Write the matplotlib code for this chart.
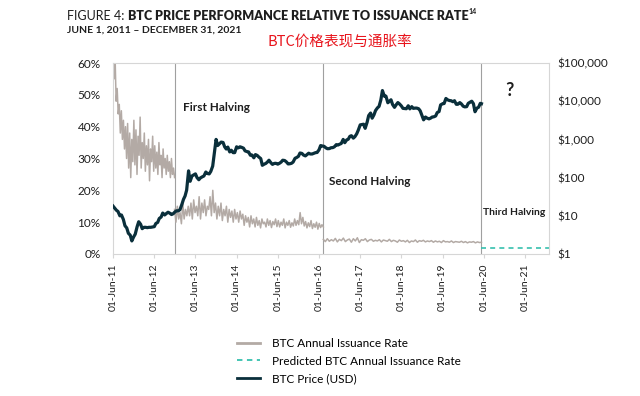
import matplotlib
matplotlib.use("Agg")
import matplotlib.pyplot as plt
import matplotlib.dates as mdates
from matplotlib.lines import Line2D
from matplotlib.ticker import FixedLocator, FixedFormatter
import pandas as pd
import numpy as np

plt.rcParams['font.family'] = ['Lato', 'DejaVu Sans']

# ---------------- data ----------------
price_2011 = [18, 16, 14, 13, 10, 10.5, 8, 5.5, 4.8, 3.5, 3.1, 2.2, 2.8, 3.3]
price_2012 = [5.2, 7.0, 6.0, 4.6, 5.0, 5.0, 4.9, 5.0, 5.0, 5.1, 5.2, 6.3,
              6.7, 8.5, 9.3, 11.8, 10.5, 11.4, 12.4, 11.8, 10.8, 11.3, 12.6, 13.5]
price_2013 = [13.5, 14.5, 20, 27, 33, 47, 150, 80, 110, 117, 125, 100,
              88, 98, 105, 110, 140, 128, 125, 145, 200, 420, 1000, 690]
price_2014 = [770, 850, 830, 640, 560, 630, 470, 520, 450, 450, 640, 600,
              640, 620, 590, 500, 480, 470, 385, 390, 330, 400, 380, 345]
price_2015 = [315, 210, 225, 235, 255, 285, 245, 222, 235, 237, 225, 236,
              255, 285, 280, 260, 228, 230, 237, 255, 320, 335, 360, 440]
price_2016 = [430, 390, 370, 400, 435, 415, 415, 430, 450, 455, 535, 690,
              670, 660, 600, 570, 575, 605, 610, 640, 730, 710, 750, 780]
price_2017 = [1000, 820, 970, 1010, 1200, 1250, 1080, 1180, 1400, 1750, 2400, 2450,
              2500, 1950, 2800, 4200, 4900, 3600, 4400, 5700, 6700, 7300, 10800, 19000]
price_2018 = [13500, 13600, 9100, 10000, 10900, 8200, 6900, 8000, 9200, 8500, 7500, 6500,
              6400, 6350, 7600, 6300, 7200, 6500, 6600, 6600, 6350, 5600, 4200, 3250]
price_2019 = [3850, 3600, 3450, 3600, 3850, 3900, 4100, 5050, 5350, 8000, 8550, 8700,
              11800, 10900, 10400, 10300, 9700, 10300, 8300, 8300, 9200, 8500, 7400, 7100]
price_2020 = [7200, 8800, 9400, 10000, 8600, 5300, 6600, 6900, 8800]
price_last = 8600
price_start = "2011-06-01"
price_semimonthly_end = "2020-05-01"
price_last_date = "2020-05-11"

# BTC annual issuance rate (%), by halving era
halving_dates = ["2012-11-28", "2016-07-09", "2020-05-11"]
era_start = "2011-06-01"
issuance_era1 = [68, 55, 62, 48, 52, 44, 47, 38, 45, 36, 42, 33, 40, 30, 41, 27, 38, 24, 36, 29,
                 42, 28, 39, 25, 37, 31, 43, 27, 35, 30, 38, 26, 34, 28, 36, 23, 33, 29, 37, 26,
                 34, 27, 32, 25, 35, 28, 31, 24, 33, 27, 30, 25, 31, 26, 29, 24, 30, 25, 27, 24]
issuance_era2 = [14, 10, 15, 11, 13, 9.5, 16, 11, 14, 12, 15,
                 12, 16, 11, 17, 13, 15, 12, 18, 11, 16, 13, 17, 12, 15, 14, 18, 12, 20, 13, 16,
                 11, 15, 12, 16, 10.5, 14, 12, 15, 10, 14, 11.5, 13.5, 10, 14, 11, 13, 10, 13.5, 11, 12.5,
                 9, 12, 10, 11.5, 8.5, 12, 9.5, 11, 8.5, 11.5, 9, 10.5, 8.2, 11, 9.5, 10, 8.5, 11, 9, 10.5,
                 8.3, 10.2, 9.2, 11, 8.6,
                 10.5, 8.5, 10, 9, 11, 8.2, 10, 9, 10.5, 8.4, 9.8, 8.8, 11, 9, 10.5, 9.2, 13, 9.5, 11.5, 8.8,
                 10.2, 8.2, 9.8, 8.6, 10.5, 8, 9.5, 8.4, 10, 7.8, 9.6, 8.3, 9.2, 8.5]
issuance_era3 = [4.6, 3.9, 4.8, 4.0, 4.5, 4.1, 4.9, 3.8, 4.6, 4.2, 5.0, 3.9, 4.4, 4.7, 3.7, 4.8,
                 4.1, 5.1, 3.6, 4.5, 4.3, 4.8, 3.9, 4.4, 4.6, 4.0, 4.3, 4.1, 4.5, 3.8, 4.4, 4.2,
                 4.0, 4.6, 3.9, 4.3, 4.1, 3.7, 4.4, 4.0, 4.2, 3.8, 4.3, 3.6, 4.1, 3.9, 4.4, 3.7,
                 4.2, 4.0, 4.3, 3.8, 4.1, 3.9, 4.2, 3.7, 4.1, 3.8, 4.0, 3.6, 4.2, 3.8, 3.9, 3.7,
                 4.1, 3.6, 3.9, 3.8, 3.7, 4.0, 3.6, 3.9, 3.5, 3.8, 3.7, 3.9, 3.5, 3.8, 3.6, 3.7]
predicted_dates = ["2020-05-11", "2021-12-31"]
predicted_rate = [1.8, 1.8]

x_range = ["2011-06-01", "2021-12-31"]
tick_dates = ["2011-06-01", "2012-06-01", "2013-06-01", "2014-06-01", "2015-06-01", "2016-06-01",
              "2017-06-01", "2018-06-01", "2019-06-01", "2020-06-01", "2021-06-01"]
pct_ticks = [0, 10, 20, 30, 40, 50, 60]
usd_ticks = [1, 10, 100, 1000, 10000, 100000]
usd_labels = ["$1", "$10", "$100", "$1,000", "$10,000", "$100,000"]
halving_labels = ["First Halving", "Second Halving", "Third Halving"]

# ---------------- build series ----------------
price_vals = (price_2011 + price_2012 + price_2013 + price_2014 + price_2015 + price_2016 +
              price_2017 + price_2018 + price_2019 + price_2020)
price_dates = list(pd.date_range(price_start, price_semimonthly_end, freq="SMS"))
assert len(price_dates) == len(price_vals), (len(price_dates), len(price_vals))
price_dates.append(pd.Timestamp(price_last_date))
price_vals = price_vals + [price_last]

eras = [issuance_era1, issuance_era2, issuance_era3]
bounds = [era_start] + halving_dates

# ---------------- figure ----------------
fig = plt.figure(figsize=(6.4, 3.96), dpi=100)
ax = fig.add_axes([113 / 640, 1 - 254 / 396, (549 - 113) / 640, (254 - 63) / 396])

grey = "#b3aaa5"
dark = "#0a2f3b"
teal = "#36c0ae"
spine_c = "#d6d6d6"
txt = "#1e1e1e"

for vals, s, e in zip(eras, bounds[:-1], bounds[1:]):
    d = pd.date_range(s, e, periods=len(vals))
    ax.plot(d, vals, color=grey, lw=1.1, zorder=2)
ax.plot(pd.to_datetime(predicted_dates), predicted_rate, color=teal, lw=1.2,
        ls=(0, (3, 2.5)), zorder=2)

for hd in halving_dates:
    ax.axvline(pd.Timestamp(hd), color="#a0a0a0", lw=0.8, zorder=1)

ax.set_xlim(pd.Timestamp(x_range[0]), pd.Timestamp(x_range[1]))
ax.set_ylim(0, 60)
ax.yaxis.set_major_locator(FixedLocator(pct_ticks))
ax.yaxis.set_major_formatter(FixedFormatter([f"{p}%" for p in pct_ticks]))
ax.set_xticks(pd.to_datetime(tick_dates))
ax.xaxis.set_major_formatter(mdates.DateFormatter("%d-%b-%y"))
ax.tick_params(axis="x", rotation=90, length=3, color=spine_c, labelsize=7.5, pad=4, labelcolor=txt)
ax.tick_params(axis="y", length=0, labelsize=8.5, pad=9, labelcolor=txt)
for sp in ax.spines.values():
    sp.set_color(spine_c)
    sp.set_linewidth(0.8)

ax2 = ax.twinx()
ax2.plot(price_dates, price_vals, color=dark, lw=2.3, zorder=3)
ax2.set_yscale("log")
ax2.set_ylim(1, 100000)
ax2.yaxis.set_major_locator(FixedLocator(usd_ticks))
ax2.yaxis.set_major_formatter(FixedFormatter(usd_labels))
ax2.yaxis.set_minor_locator(FixedLocator([]))
ax2.tick_params(axis="y", length=0, labelsize=8.5, pad=6, labelcolor=txt)
for sp in ax2.spines.values():
    sp.set_visible(False)

# halving annotations
ax.text(pd.Timestamp("2013-02-15"), 45.0, halving_labels[0], fontsize=8.5, fontweight="bold", color=txt)
ax.text(pd.Timestamp("2016-09-01"), 21.6, halving_labels[1], fontsize=8.5, fontweight="bold", color=txt)
ax.text(pd.Timestamp("2020-05-25"), 12.3, halving_labels[2], fontsize=7.5, fontweight="bold", color=txt)
ax.text(pd.Timestamp("2021-01-15"), 49.5, "?", fontsize=13, fontweight="bold", color=txt, ha="center")

# titles
t1 = fig.text(67 / 640, 1 - 16 / 396, "FIGURE 4: ", fontsize=9, color=txt, va="center")
fig.canvas.draw()
r = fig.canvas.get_renderer()
bb = t1.get_window_extent(r)
t2 = fig.text(bb.x1 / 640, 1 - 16 / 396, "BTC PRICE PERFORMANCE RELATIVE TO ISSUANCE RATE",
              fontsize=9, fontweight="heavy", color=txt, va="center")
bb2 = t2.get_window_extent(r)
fig.text(bb2.x1 / 640 + 0.001, 1 - 12 / 396, "14", fontsize=5, fontweight="bold", color=txt, va="center")
fig.text(67 / 640, 1 - 30 / 396, "JUNE 1, 2011 \u2013 DECEMBER 31, 2021", fontsize=7.5, fontweight="bold",
         color=txt, va="center")
fig.text(340 / 640, 1 - 42 / 396, "BTC价格表现与通胀率", fontsize=10.5, color="#e8141c", va="center",
         ha="center", family=["Noto Sans CJK SC", "DejaVu Sans"])

handles = [Line2D([], [], color=grey, lw=2),
           Line2D([], [], color=teal, lw=1.3, ls=(0, (3, 2.5))),
           Line2D([], [], color=dark, lw=2)]
labels = ["BTC Annual Issuance Rate", "Predicted BTC Annual Issuance Rate", "BTC Price (USD)"]
fig.legend(handles, labels, loc="upper left", bbox_to_anchor=(232 / 640, 1 - 333 / 396), frameon=False,
           fontsize=8.5, handlelength=2.0, handletextpad=1.0, labelspacing=0.58, borderaxespad=0)

fig.savefig("out.png", dpi=100)
